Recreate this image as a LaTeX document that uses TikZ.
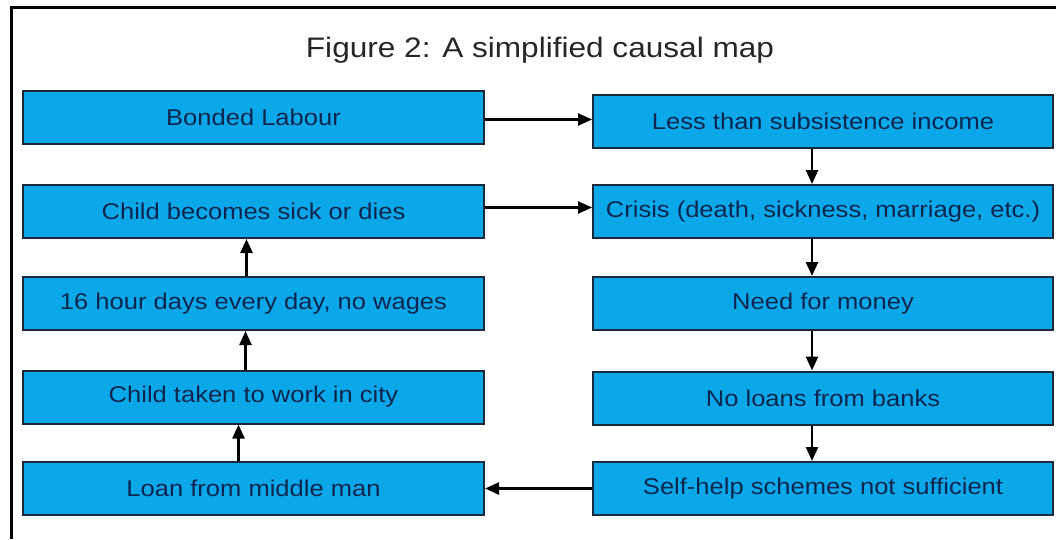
\documentclass[tikz,border=0pt]{standalone}
\usepackage{fontspec}
\setmainfont[FakeStretch=1.12]{Liberation Sans}
\usetikzlibrary{arrows.meta}

\definecolor{boxblue}{HTML}{0AA8E8}
\definecolor{boxtext}{HTML}{0B2650}
\definecolor{boxline}{HTML}{1A2A3A}

\tikzset{
  causebox/.style={draw=boxline,line width=2pt,fill=boxblue,text=boxtext,
    minimum height=53pt,inner sep=0pt,font=\fontsize{22.8}{24}\selectfont},
  leftbox/.style={causebox,minimum width=461pt},
  rightbox/.style={causebox,minimum width=460pt},
  causearrow/.style={line width=2.5pt,-{Triangle[length=14pt,width=12pt]}}
}

\begin{document}
\begin{tikzpicture}[x=1pt,y=-1pt]

        \useasboundingbox (0,0) rectangle (1056,539);
        \draw[line width=3pt] (11.5,539) -- (11.5,7.5) -- (1056,7.5);

        \node[text=black!85] (title) at (540,50) {\fontsize{28.2}{30}\selectfont Figure 2: A simplified causal map};

        % left column
        \node[leftbox] (bonded) at (253.5,117.5) {Bonded Labour};
        \node[leftbox] (sick)   at (253.5,211.5) {Child becomes sick or dies};
        \node[leftbox] (hours)  at (253.5,303.5) {16 hour days every day, no wages};
        \node[leftbox] (taken)  at (253.5,397)   {Child taken to work in city};
        \node[leftbox] (loan)   at (253.5,488.5) {Loan from middle man};

        % right column
        \node[rightbox] (income) at (823,121.5) {Less than subsistence income};
        \node[rightbox] (crisis) at (823,211.5) {Crisis (death, sickness, marriage, etc.)};
        \node[rightbox] (money)  at (823,303.5) {Need for money};
        \node[rightbox] (banks)  at (823,398)   {No loans from banks};
        \node[rightbox] (self)   at (823,488.5) {Self-help schemes not sufficient};

        \draw[causearrow] ([yshift=-2pt]bonded.east) -- ([yshift=-2pt]bonded.east -| income.west);
        \draw[causearrow] ([yshift=4pt]sick.east) -- ([yshift=4pt]crisis.west);
        \draw[causearrow] ([xshift=-11pt]income.south) -- ([xshift=-11pt]crisis.north);
        \draw[causearrow] ([xshift=-11pt]crisis.south) -- ([xshift=-11pt]money.north);
        \draw[causearrow] ([xshift=-11pt]money.south) -- ([xshift=-11pt]banks.north);
        \draw[causearrow] ([xshift=-11pt]banks.south) -- ([xshift=-11pt]self.north);
        \draw[causearrow] (self.west) -- (loan.east);
        \draw[causearrow] ([xshift=-15pt]loan.north) -- ([xshift=-15pt]taken.south);
        \draw[causearrow] ([xshift=-8pt]taken.north) -- ([xshift=-8pt]hours.south);
        \draw[causearrow] ([xshift=-7pt]hours.north) -- ([xshift=-7pt]sick.south);

\end{tikzpicture}
\end{document}
